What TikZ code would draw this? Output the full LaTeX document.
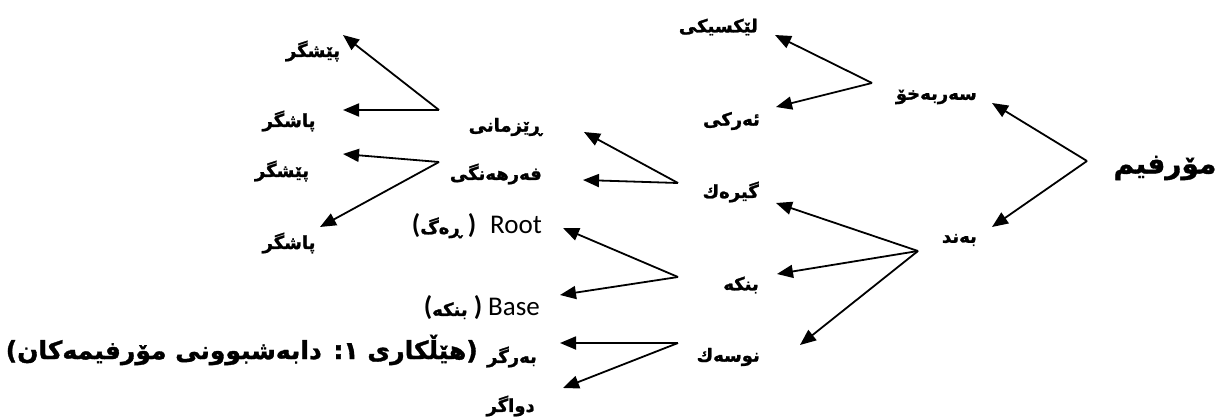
\documentclass[tikz,border=0pt]{standalone}
\usepackage{fontspec}
\usetikzlibrary{arrows.meta}
\TeXXeTstate=1
\newfontfamily\arfont[Script=Arabic,FakeBold=1.3]{DejaVu Sans Bold}
\newfontfamily\latfont{Carlito}
\tikzset{
  lbl/.style={font=\arfont\fontsize{18}{22}\selectfont, inner sep=0pt},
  latlbl/.style={font=\latfont\fontsize{27}{30}\selectfont, inner sep=0pt},
  bigl/.style={font=\arfont\fontsize{28}{32}\selectfont, inner sep=0pt},
  capl/.style={font=\arfont\fontsize{25}{30}\selectfont, inner sep=0pt},
  arr/.style={-{Triangle[length=16pt,width=13pt]}, line width=1.8pt, black},
}
\begin{document}
\begin{tikzpicture}[x=1pt,y=-1pt]
\useasboundingbox (0,0) rectangle (1224,420);
% top level
\node[bigl] (morph) at (1165,168) {\beginR مۆرفیم\endR};
\node[lbl, anchor=east] (free) at (977,97) {\beginR سەربەخۆ\endR};
\node[lbl, anchor=east] (bound) at (977,240) {\beginR بەند\endR};
% second level
\node[lbl, anchor=east] (lex) at (758,27) {\beginR لێکسیکی\endR};
\node[lbl, anchor=east] (func) at (760,121) {\beginR ئەرکی\endR};
\node[lbl, anchor=east] (affix) at (759,192) {\beginR گیرەك\endR};
\node[lbl, anchor=east] (base) at (759,285) {\beginR بنکە\endR};
\node[lbl, anchor=east] (clit) at (760,357) {\beginR نوسەك\endR};
% third level
\node[lbl, anchor=east] (gram) at (542,127) {\beginR ڕێزمانی\endR};
\node[lbl, anchor=east] (deriv) at (542,174) {\beginR فەرهەنگی\endR};
\node[latlbl, anchor=east] (root) at (542,226) {{\bfseries(}{\arfont\fontsize{18}{22}\selectfont ڕەگ}\ {\bfseries)}\hspace{14pt}Root};
\node[latlbl, anchor=east] (bs) at (540,308) {{\bfseries(}{\arfont\fontsize{18}{22}\selectfont بنکە}\ {\bfseries)}\hspace{6pt}Base};
\node[lbl, anchor=east] (procl) at (537,357) {\beginR بەرگر\endR};
\node[lbl, anchor=east] (encl) at (535,406) {\beginR دواگر\endR};
% fourth level
\node[lbl] (pre1) at (313,51) {\beginR پێشگر\endR};
\node[lbl] (suf1) at (289,121) {\beginR پاشگر\endR};
\node[lbl] (pre2) at (282,171) {\beginR پێشگر\endR};
\node[lbl] (suf2) at (289,243) {\beginR پاشگر\endR};
% caption
\node[capl, anchor=east] (cap) at (478,350) {\beginR (هێڵكاری ١: دابەشبوونی مۆرفیمەكان)\endR};
% junctions and arrow ends
\coordinate (jM) at (1087,161);
\coordinate (jS) at (872,83);
\coordinate (jB) at (918,251);
\coordinate (jG) at (678,183);
\coordinate (jN) at (678,277);
\coordinate (jK) at (678,343);
\coordinate (jR) at (439,110);
\coordinate (jF) at (439,162);
\coordinate (tFree) at (992,103);
\coordinate (tBound) at (992,227);
\coordinate (tLex) at (775,35);
\coordinate (tFunc) at (776,107);
\coordinate (tAffix) at (776,203);
\coordinate (tBase) at (777,274);
\coordinate (tClit) at (800,345);
\coordinate (tGram) at (584,132);
\coordinate (tDeriv) at (583,180);
\coordinate (tRoot) at (563,228);
\coordinate (tBs) at (560,295);
\coordinate (tProcl) at (560,343);
\coordinate (tEncl) at (563,388);
\coordinate (tPre1) at (343,35);
\coordinate (tSuf1) at (343,110);
\coordinate (tPre2) at (343,154);
\coordinate (tSuf2) at (320,227);
% arrows
\draw[arr] (jM) -- (tFree);
\draw[arr] (jM) -- (tBound);
\draw[arr] (jS) -- (tLex);
\draw[arr] (jS) -- (tFunc);
\draw[arr] (jB) -- (tAffix);
\draw[arr] (jB) -- (tBase);
\draw[arr] (jB) -- (tClit);
\draw[arr] (jG) -- (tGram);
\draw[arr] (jG) -- (tDeriv);
\draw[arr] (jN) -- (tRoot);
\draw[arr] (jN) -- (tBs);
\draw[arr] (jK) -- (tProcl);
\draw[arr] (jK) -- (tEncl);
\draw[arr] (jR) -- (tPre1);
\draw[arr] (jR) -- (tSuf1);
\draw[arr] (jF) -- (tPre2);
\draw[arr] (jF) -- (tSuf2);
\end{tikzpicture}
\end{document}
